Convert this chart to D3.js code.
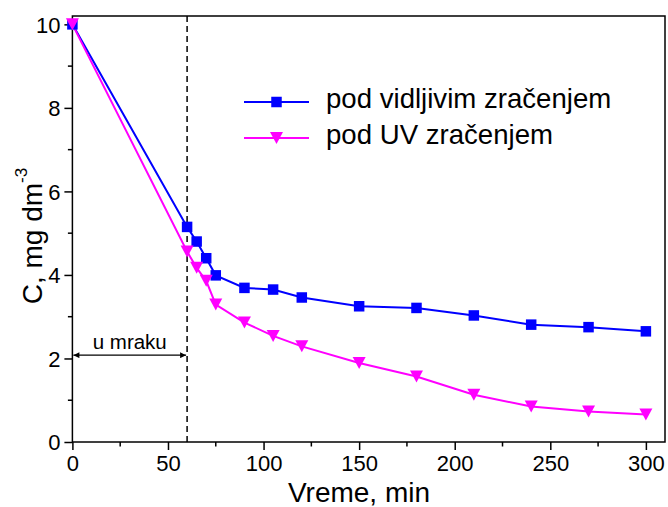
<!DOCTYPE html>
<html>
<head>
<meta charset="utf-8">
<script src="https://cdn.jsdelivr.net/npm/d3@7"></script>
<style>
  html, body { margin: 0; padding: 0; background: #fff; }
  svg { display: block; font-family: "Liberation Sans", Arial, sans-serif; }
</style>
</head>
<body>
<svg id="chart" width="668" height="507"></svg>
<script>
// Time points (min) and concentrations (mg dm^-3)
const time = [0, 60, 65, 70, 75, 90, 105, 120, 150, 180, 210, 240, 270, 300];
const visible = [10.0, 5.15, 4.80, 4.40, 3.99, 3.69, 3.65, 3.46, 3.25, 3.21, 3.03, 2.81, 2.75, 2.65];
const uv = [10.0, 4.56, 4.17, 3.86, 3.29, 2.86, 2.54, 2.29, 1.89, 1.57, 1.13, 0.85, 0.73, 0.66];
const seriesNames = ["pod vidljivim zračenjem", "pod UV zračenjem"];
const xTicks = [0, 50, 100, 150, 200, 250, 300];
const yTicks = [0, 2, 4, 6, 8, 10];
const darkEnd = 60;

const svg = d3.select("#chart");
const plotLeft = 72.4, plotRight = 665, plotTop = 16, plotBottom = 442;

const x = d3.scaleLinear().domain([0, 310]).range([plotLeft, plotRight]);
const y = d3.scaleLinear().domain([0, 10.2]).range([plotBottom, plotTop]);

const blue = "#0000ff", magenta = "#ff00ff";
const fontFam = "'Liberation Sans', Arial, sans-serif";

// Frame
svg.append("rect")
  .attr("x", plotLeft).attr("y", plotTop)
  .attr("width", plotRight - plotLeft).attr("height", plotBottom - plotTop)
  .attr("fill", "none").attr("stroke", "#000").attr("stroke-width", 1.5);

// X axis: major ticks + minor ticks
const xAxis = svg.append("g").attr("transform", `translate(0,${plotBottom})`);
xAxis.call(d3.axisBottom(x).tickValues(xTicks).tickSize(8).tickFormat(d3.format("d")))
  .call(g => g.select(".domain").remove())
  .call(g => g.selectAll("line").attr("stroke", "#000").attr("stroke-width", 1.5))
  .call(g => g.selectAll("text").attr("font-size", 22).attr("fill", "#000")
    .attr("font-family", fontFam).attr("y", 13).attr("dy", "0.71em"));
xAxis.selectAll(".minor").data([25, 75, 125, 175, 225, 275]).enter().append("line")
  .attr("x1", d => x(d)).attr("x2", d => x(d)).attr("y1", 0).attr("y2", 4.5)
  .attr("stroke", "#000").attr("stroke-width", 1.5);

// Y axis
const yAxis = svg.append("g").attr("transform", `translate(${plotLeft},0)`);
yAxis.call(d3.axisLeft(y).tickValues(yTicks).tickSize(8).tickFormat(d3.format("d")))
  .call(g => g.select(".domain").remove())
  .call(g => g.selectAll("line").attr("stroke", "#000").attr("stroke-width", 1.5))
  .call(g => g.selectAll("text").attr("font-size", 22).attr("fill", "#000")
    .attr("font-family", fontFam).attr("x", -12).attr("dy", "0.36em"));
yAxis.selectAll(".minor").data([1, 3, 5, 7, 9]).enter().append("line")
  .attr("x1", -4.5).attr("x2", 0).attr("y1", d => y(d)).attr("y2", d => y(d))
  .attr("stroke", "#000").attr("stroke-width", 1.5);

// Axis titles
svg.append("text")
  .attr("x", 359).attr("y", 501.5)
  .attr("text-anchor", "middle").attr("font-size", 28).attr("fill", "#000")
  .text("Vreme, min");

const yTitle = svg.append("text")
  .attr("transform", "translate(42,236) rotate(-90)")
  .attr("text-anchor", "middle").attr("font-size", 28).attr("fill", "#000");
yTitle.append("tspan").text("C, mg dm");
yTitle.append("tspan").attr("font-size", 17).attr("dy", -15).text("-3");

// Dark-phase marker: dashed line and double arrow
svg.append("line")
  .attr("x1", x(darkEnd)).attr("x2", x(darkEnd))
  .attr("y1", plotTop).attr("y2", plotBottom)
  .attr("stroke", "#000").attr("stroke-width", 1.5).attr("stroke-dasharray", "6,4");

const defs = svg.append("defs");
defs.append("marker").attr("id", "arrowEnd")
  .attr("viewBox", "0 0 10 10").attr("refX", 10).attr("refY", 5)
  .attr("markerWidth", 10).attr("markerHeight", 6).attr("markerUnits", "userSpaceOnUse")
  .attr("orient", "auto")
  .append("path").attr("d", "M0,0 L10,5 L0,10 Z").attr("fill", "#000");
defs.append("marker").attr("id", "arrowStart")
  .attr("viewBox", "0 0 10 10").attr("refX", 0).attr("refY", 5)
  .attr("markerWidth", 10).attr("markerHeight", 6).attr("markerUnits", "userSpaceOnUse")
  .attr("orient", "auto")
  .append("path").attr("d", "M10,0 L0,5 L10,10 Z").attr("fill", "#000");

const arrowY = y(2.08);
svg.append("line")
  .attr("x1", x(0) + 1).attr("x2", x(darkEnd) - 1)
  .attr("y1", arrowY).attr("y2", arrowY)
  .attr("stroke", "#000").attr("stroke-width", 1.2)
  .attr("marker-start", "url(#arrowStart)").attr("marker-end", "url(#arrowEnd)");
svg.append("text")
  .attr("x", (x(0) + x(darkEnd)) / 2).attr("y", 349)
  .attr("text-anchor", "middle").attr("font-size", 20.5).attr("fill", "#000")
  .text("u mraku");

// Series
const line = d3.line().x(d => x(d[0])).y(d => y(d[1]));
const visPts = time.map((t, i) => [t, visible[i]]);
const uvPts = time.map((t, i) => [t, uv[i]]);

const sq = 10.5;
const tri = (cx, cy) => {
  const w = 13, h = 12;
  return `M${cx - w / 2},${cy - h / 2} L${cx + w / 2},${cy - h / 2} L${cx},${cy + h / 2} Z`;
};

svg.append("path").datum(visPts).attr("d", line)
  .attr("fill", "none").attr("stroke", blue).attr("stroke-width", 2);
svg.append("path").datum(uvPts).attr("d", line)
  .attr("fill", "none").attr("stroke", magenta).attr("stroke-width", 2);

svg.append("g").selectAll("rect").data(visPts).enter().append("rect")
  .attr("x", d => x(d[0]) - sq / 2).attr("y", d => y(d[1]) - sq / 2)
  .attr("width", sq).attr("height", sq).attr("fill", blue);
svg.append("g").selectAll("path").data(uvPts).enter().append("path")
  .attr("d", d => tri(x(d[0]), y(d[1]))).attr("fill", magenta);

// Legend
const legend = svg.append("g");
const legRows = [
  { name: seriesNames[0], color: blue, ly: 102, shape: "square" },
  { name: seriesNames[1], color: magenta, ly: 138, shape: "tri" }
];
legRows.forEach(r => {
  legend.append("line").attr("x1", 244).attr("x2", 309)
    .attr("y1", r.ly).attr("y2", r.ly).attr("stroke", r.color).attr("stroke-width", 2);
  if (r.shape === "square") {
    legend.append("rect").attr("x", 276.5 - sq / 2).attr("y", r.ly - sq / 2)
      .attr("width", sq).attr("height", sq).attr("fill", r.color);
  } else {
    legend.append("path").attr("d", tri(276.5, r.ly)).attr("fill", r.color);
  }
  legend.append("text").attr("x", 326).attr("y", r.ly + 6)
    .attr("font-size", 27.6).attr("fill", "#000").text(r.name);
});
</script>
</body>
</html>
